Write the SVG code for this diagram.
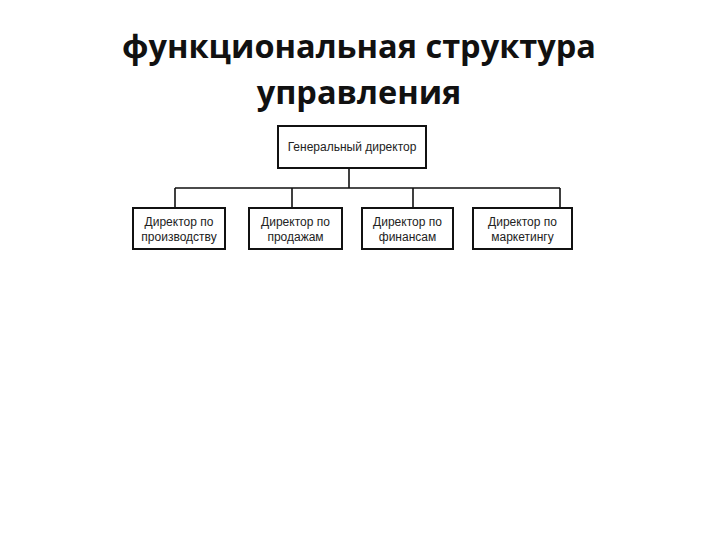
<svg xmlns="http://www.w3.org/2000/svg" width="720" height="540" viewBox="0 0 720 540">
<style>
.title{font-family:"Open Sans","Noto Sans",sans-serif;font-weight:bold;font-size:32.5px;fill:#111;text-anchor:middle}
.box{fill:#fff;stroke:#111;stroke-width:2}
.lbl{font-family:"Liberation Sans",Arial,sans-serif;font-size:12px;fill:#222;text-anchor:middle}
.conn{fill:none;stroke:#111;stroke-width:1.6}
</style>
<rect width="720" height="540" fill="#fff"/>
<text class="title" x="359" y="58">функциональная структура</text>
<text class="title" x="359" y="104">управления</text>
<g id="connectors">
<path class="conn" d="M349 168V188M175 188H560M175 188V208M292 188V208M413 188V208M560 188V208"/>
</g>
<g id="n0"><rect class="box" x="278" y="126" width="148" height="42"/><text class="lbl" x="352" y="151">Генеральный директор</text></g>
<g id="n1"><rect class="box" x="133" y="208" width="92" height="41"/><text class="lbl" x="179" y="226">Директор по</text><text class="lbl" x="179" y="241">производству</text></g>
<g id="n2"><rect class="box" x="249" y="208" width="93" height="41"/><text class="lbl" x="295.5" y="226">Директор по</text><text class="lbl" x="295.5" y="241">продажам</text></g>
<g id="n3"><rect class="box" x="362" y="208" width="91" height="41"/><text class="lbl" x="407.5" y="226">Директор по</text><text class="lbl" x="407.5" y="241">финансам</text></g>
<g id="n4"><rect class="box" x="473" y="208" width="99" height="41"/><text class="lbl" x="522.5" y="226">Директор по</text><text class="lbl" x="522.5" y="241">маркетингу</text></g>
</svg>
